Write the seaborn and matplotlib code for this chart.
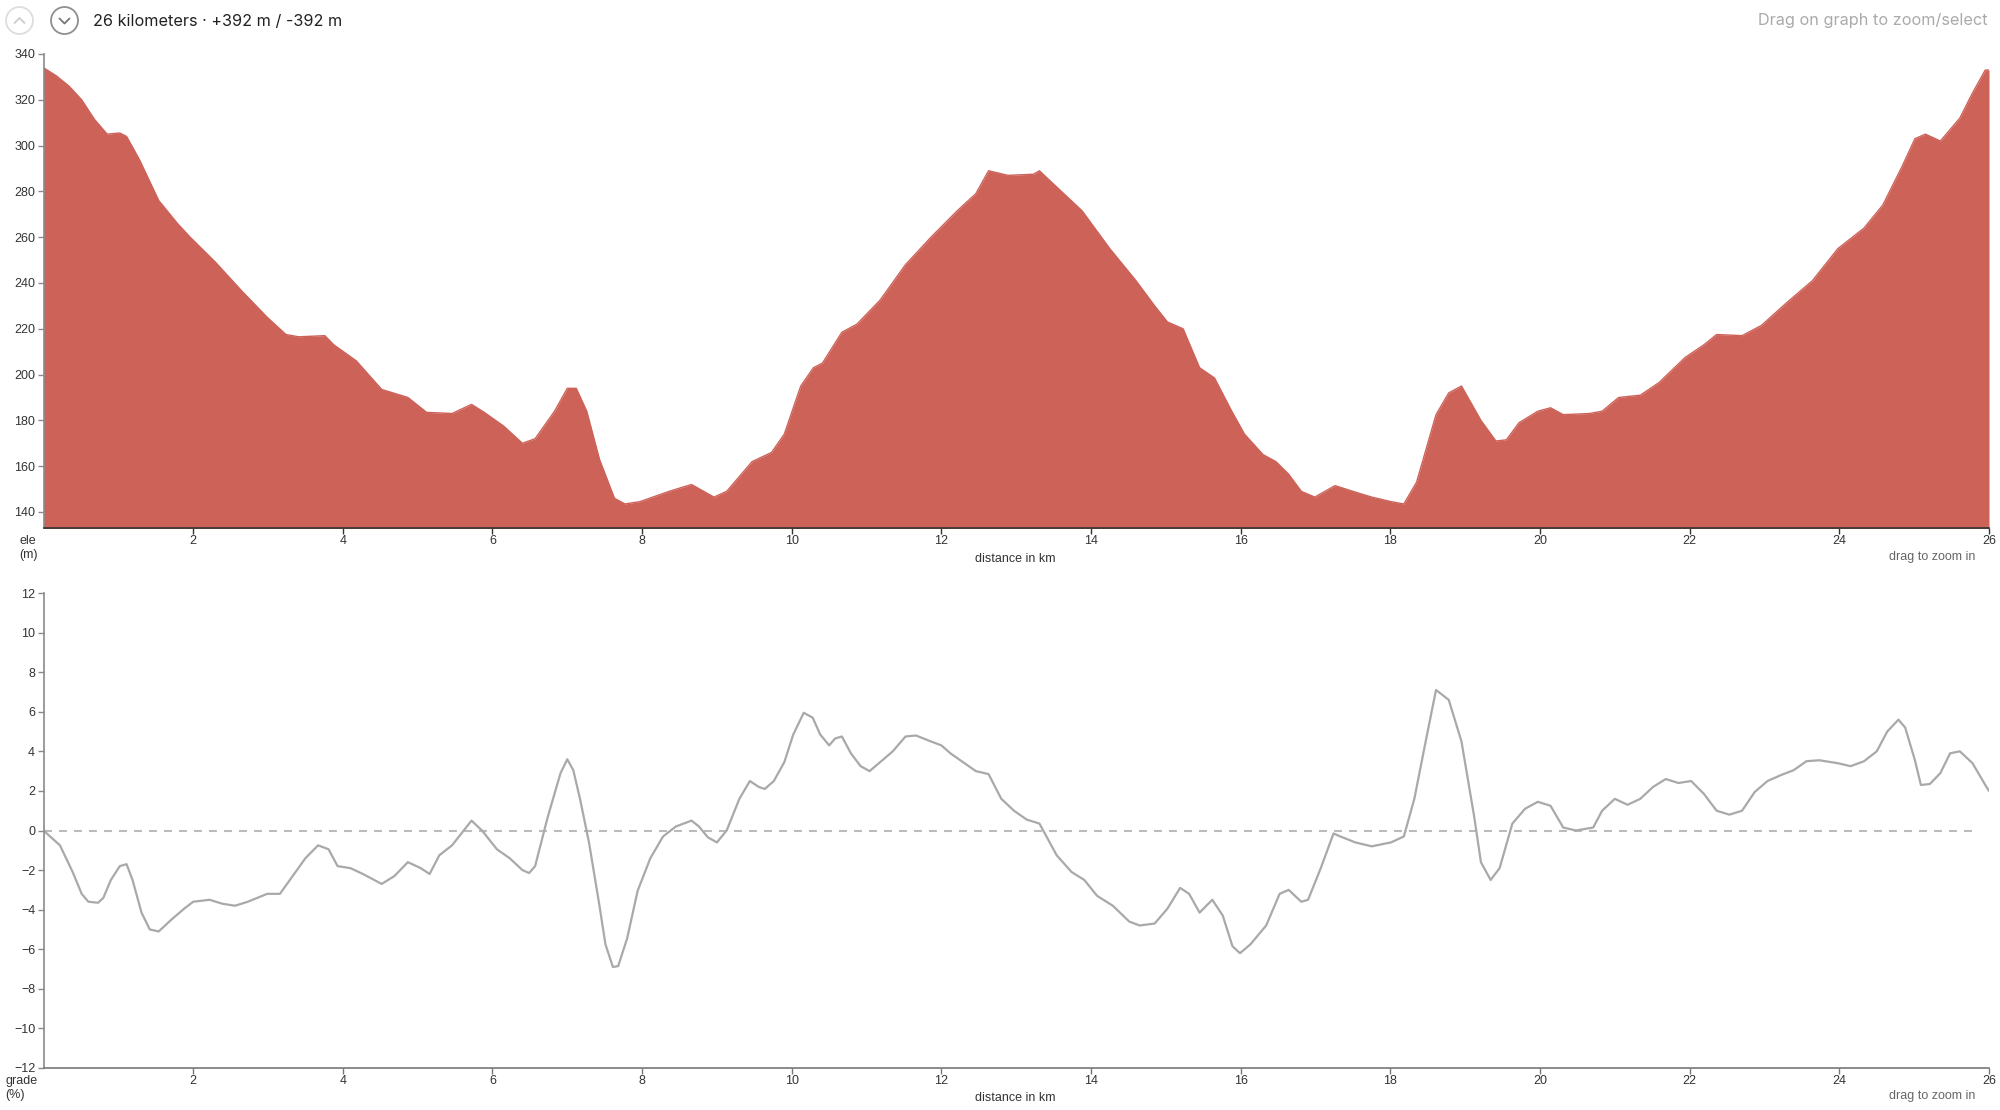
import numpy as np
import pandas as pd
import seaborn as sns
import matplotlib.pyplot as plt
from matplotlib.patches import Circle

# === Elevation profile (km, m) ===
elev_km = [0.00, 0.17, 0.34, 0.51, 0.68, 0.85, 1.02, 1.11, 1.28, 1.54, 1.79, 1.96,
           2.30, 2.65, 2.99, 3.24, 3.41, 3.76, 3.88, 4.18, 4.52, 4.87, 5.12, 5.46,
           5.72, 5.89, 6.15, 6.40, 6.57, 6.83, 7.00, 7.12, 7.26, 7.43, 7.63, 7.77,
           7.97, 8.36, 8.66, 8.96, 9.13, 9.47, 9.73, 9.90, 10.12, 10.29, 10.41, 10.67,
           10.87, 11.18, 11.52, 11.86, 12.21, 12.46, 12.63, 12.89, 13.23, 13.31, 13.57,
           13.88, 14.25, 14.60, 14.85, 15.02, 15.23, 15.45, 15.65, 15.88, 16.05, 16.30,
           16.47, 16.64, 16.81, 16.99, 17.26, 17.50, 17.75, 18.01, 18.18, 18.35, 18.61,
           18.78, 18.95, 19.21, 19.41, 19.55, 19.72, 19.97, 20.14, 20.31, 20.66, 20.83,
           21.05, 21.34, 21.59, 21.94, 22.19, 22.36, 22.70, 22.96, 23.30, 23.64, 23.98,
           24.33, 24.58, 24.84, 25.01, 25.15, 25.35, 25.61, 25.78, 25.95, 26.00]
elev_m = [334, 330.5, 326, 320, 311.5, 305, 305.5, 304, 294, 276, 266, 260,
          249, 236.5, 225, 217.5, 216.5, 217, 213, 206, 193.5, 190, 183.5, 183,
          187, 183.5, 177.5, 170, 172, 184, 194, 194, 184, 163, 146, 143.5,
          144.5, 149, 152, 146.5, 149, 162, 166, 174, 195, 203, 205, 218.5,
          222, 232.5, 248, 260, 271.5, 279, 289, 287, 287.5, 289, 281,
          271.5, 255, 241, 230, 223, 220, 203, 198.5, 184, 174, 165,
          162, 156.5, 149, 146.5, 151.5, 149, 146.5, 144.5, 143.5, 153, 182.5,
          192, 195, 180, 171, 171.5, 179, 184, 185.5, 182.5, 183, 184,
          190, 191, 196.5, 207.5, 213, 217.5, 217, 221.5, 231.5, 241, 255,
          264, 274, 291, 303, 305, 302, 312, 323, 333, 333]

# === Grade profile (km, %) ===
grade_km = [0.00, 0.22, 0.39, 0.51, 0.60, 0.73, 0.80, 0.90, 1.02, 1.11, 1.19, 1.31,
            1.42, 1.54, 1.71, 1.88, 2.00, 2.22, 2.39, 2.56, 2.73, 2.99, 3.16, 3.33,
            3.50, 3.67, 3.81, 3.93, 4.10, 4.27, 4.52, 4.69, 4.87, 5.04, 5.16, 5.29,
            5.46, 5.72, 5.86, 6.06, 6.23, 6.40, 6.49, 6.57, 6.74, 6.91, 7.00, 7.08,
            7.17, 7.29, 7.43, 7.51, 7.61, 7.68, 7.80, 7.94, 8.11, 8.28, 8.45, 8.66,
            8.76, 8.88, 9.00, 9.13, 9.30, 9.44, 9.56, 9.64, 9.76, 9.90, 10.02, 10.16,
            10.28, 10.38, 10.50, 10.58, 10.67, 10.79, 10.92, 11.04, 11.18, 11.35, 11.52,
            11.66, 11.86, 12.00, 12.12, 12.29, 12.46, 12.63, 12.80, 12.97, 13.14, 13.31,
            13.54, 13.74, 13.91, 14.08, 14.29, 14.51, 14.65, 14.85, 15.02, 15.19, 15.31,
            15.45, 15.62, 15.76, 15.89, 15.99, 16.13, 16.34, 16.52, 16.64, 16.81, 16.90,
            17.07, 17.24, 17.33, 17.53, 17.75, 18.01, 18.18, 18.32, 18.49, 18.61, 18.78,
            18.95, 19.12, 19.21, 19.34, 19.46, 19.63, 19.80, 19.97, 20.14, 20.31, 20.48,
            20.71, 20.83, 21.00, 21.17, 21.34, 21.51, 21.68, 21.85, 22.02, 22.19, 22.36,
            22.53, 22.70, 22.87, 23.04, 23.22, 23.39, 23.56, 23.73, 23.98, 24.15, 24.33,
            24.50, 24.64, 24.79, 24.88, 25.01, 25.09, 25.21, 25.35, 25.48, 25.61, 25.78,
            25.95, 26.00]
grade_pct = [0.0, -0.75, -2.1, -3.2, -3.6, -3.65, -3.4, -2.5, -1.8, -1.7, -2.5, -4.15,
             -5.0, -5.1, -4.5, -3.95, -3.6, -3.5, -3.7, -3.8, -3.6, -3.2, -3.2, -2.3,
             -1.4, -0.75, -0.95, -1.8, -1.9, -2.2, -2.7, -2.3, -1.6, -1.9, -2.2, -1.25,
             -0.75, 0.5, 0.0, -0.95, -1.4, -2.0, -2.15, -1.8, 0.7, 2.9, 3.6, 3.05,
             1.6, -0.6, -3.8, -5.75, -6.9, -6.85, -5.45, -3.05, -1.4, -0.3, 0.2, 0.5,
             0.2, -0.35, -0.6, 0.0, 1.6, 2.5, 2.2, 2.1, 2.5, 3.45, 4.85, 5.95,
             5.7, 4.85, 4.3, 4.65, 4.75, 3.9, 3.25, 3.0, 3.45, 4.0, 4.75,
             4.8, 4.5, 4.3, 3.9, 3.45, 3.0, 2.85, 1.6, 1.0, 0.55, 0.35,
             -1.25, -2.1, -2.5, -3.3, -3.8, -4.6, -4.8, -4.7, -3.95, -2.9, -3.2,
             -4.15, -3.5, -4.3, -5.85, -6.2, -5.75, -4.8, -3.2, -3.0, -3.6, -3.5,
             -1.9, -0.15, -0.3, -0.6, -0.8, -0.6, -0.3, 1.6, 4.85, 7.1, 6.6,
             4.5, 0.7, -1.6, -2.5, -1.9, 0.35, 1.1, 1.45, 1.25, 0.15, 0.0,
             0.15, 1.0, 1.6, 1.3, 1.6, 2.2, 2.6, 2.4, 2.5, 1.85, 1.0,
             0.8, 1.0, 1.95, 2.5, 2.8, 3.05, 3.5, 3.55, 3.4, 3.25, 3.5,
             4.0, 5.0, 5.6, 5.2, 3.55, 2.3, 2.35, 2.9, 3.9, 4.0, 3.4,
             2.3, 2.0]

x_ticks = list(range(2, 27, 2))
ele_ticks = list(range(140, 341, 20))
grade_ticks = list(range(-12, 13, 2))
zero_line_km = [0.0, 25.8]

header = "26 kilometers · +392 m / -392 m"
hint_top = "Drag on graph to zoom/select"

# === Style ===
sns.set_style("white")
plt.rcParams['font.family'] = ['Liberation Sans', 'DejaVu Sans']

RED = '#cd6259'
W, H = 2000, 1110
fig = plt.figure(figsize=(20, 11.1), dpi=100)


def box(l, t, r, b):
    return [l / W, 1 - b / H, (r - l) / W, (b - t) / H]


ax1 = fig.add_axes(box(43.5, 54, 1989, 528))
ax2 = fig.add_axes(box(43.5, 593, 1989, 1068))

# === Elevation area ===
elev = pd.DataFrame({'km': elev_km, 'ele': elev_m})
ax1.fill_between(elev['km'], elev['ele'], 120, color=RED, lw=0)
sns.lineplot(data=elev, x='km', y='ele', ax=ax1, color=RED, lw=1,
             estimator=None, sort=False)
ax1.set_xlim(0, 26)
ax1.set_ylim(133, 340)
ax1.set_yticks(ele_ticks)

# === Grade line ===
grade = pd.DataFrame({'km': grade_km, 'grade': grade_pct})
ax2.plot(zero_line_km, [0, 0], color='#bbbbbb', lw=1.5, ls=(0, (3.8, 3.4)))
sns.lineplot(data=grade, x='km', y='grade', ax=ax2, color='#a9a9a9', lw=1.6,
             estimator=None, sort=False)
ax2.set_xlim(0, 26)
ax2.set_ylim(-12, 12)
ax2.set_yticks(grade_ticks)

for ax, bottom_col, left_col in [(ax1, '#333333', '#8a8a8a'), (ax2, '#777777', '#8a8a8a')]:
    ax.set_xticks(x_ticks)
    ax.set_xlabel('')
    ax.set_ylabel('')
    ax.patch.set_alpha(0)
    for s in ['top', 'right']:
        ax.spines[s].set_visible(False)
    ax.spines['bottom'].set_color(bottom_col)
    ax.spines['left'].set_color(left_col)
    ax.spines['bottom'].set_linewidth(1.2)
    ax.spines['left'].set_linewidth(1.2)
    ax.tick_params(axis='x', length=4, width=1, pad=1, color=bottom_col,
                   labelsize=9, labelcolor='#333333', bottom=True)
    ax.tick_params(axis='y', length=4, width=1, pad=2, color=left_col,
                   labelsize=9, labelcolor='#333333', left=True)

# === Overlay in pixel coordinates for header and labels ===
ov = fig.add_axes([0, 0, 1, 1])
ov.set_xlim(0, W)
ov.set_ylim(H, 0)
ov.axis('off')
ov.patch.set_alpha(0)

ov.add_patch(Circle((19.5, 20.5), 13.5, fill=False, ec='#dddddd', lw=1.3))
ov.plot([14.5, 19.5, 24.5], [23, 18, 23], color='#cccccc', lw=1.3)
ov.add_patch(Circle((64.5, 20.5), 13.5, fill=False, ec='#8f8f8f', lw=1.3))
ov.plot([59.5, 64.5, 69.5], [18.5, 23.5, 18.5], color='#777777', lw=1.3)

ov.text(93, 21, header, fontsize=11.7, color='#222222', va='center', ha='left',
        family=['Inter', 'DejaVu Sans'])
ov.text(1988, 21, hint_top, fontsize=11.7, color='#aaaaaa', va='center', ha='right',
        family=['Inter', 'DejaVu Sans'])

ov.text(19, 535, 'ele\n(m)', fontsize=9, color='#333333', va='top', ha='left',
        linespacing=1.25)
ov.text(1015, 559, 'distance in km', fontsize=9, color='#333333', va='center', ha='center')
ov.text(1975, 557, 'drag to zoom in', fontsize=9, color='#666666', va='center', ha='right')

ov.text(5, 1075, 'grade\n(%)', fontsize=9, color='#333333', va='top', ha='left',
        linespacing=1.25)
ov.text(1015, 1098, 'distance in km', fontsize=9, color='#333333', va='center', ha='center')
ov.text(1975, 1096, 'drag to zoom in', fontsize=9, color='#666666', va='center', ha='right')

fig.savefig('out.png', dpi=100)
